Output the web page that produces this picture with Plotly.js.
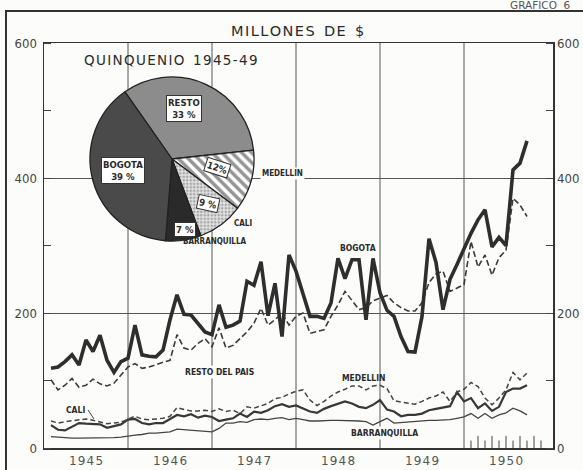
<!DOCTYPE html>
<html><head><meta charset="utf-8">
<script src="https://cdn.plot.ly/plotly-3.0.1.min.js"></script>
<style>html,body{margin:0;padding:0;background:#fcfcfa;}#chart{width:583px;height:470px;}</style>
</head><body><div id="chart"></div>
<script>
// Monthly values, millions of pesos, Jan 1945 .. Sep 1950
const yearLabels = ['1945','1946','1947','1948','1949','1950'];
const bogota = [118,120,128,138,123,160,143,167,130,112,128,133,
  182,138,136,135,145,190,227,198,197,185,172,168,
  212,179,182,188,247,241,276,196,244,165,286,262,
  228,195,195,192,215,281,251,279,279,190,281,230,
  204,195,165,143,142,195,310,275,205,250,272,296,
  318,338,353,298,312,300,412,422,455];
const resto = [101,86,93,103,90,93,102,95,92,96,108,120,
  125,118,120,124,127,130,168,148,145,155,162,150,
  178,148,152,162,172,185,207,182,190,200,182,195,
  200,170,172,175,195,212,232,218,205,208,218,222,
  226,215,208,203,203,215,245,258,262,232,237,242,
  306,268,286,256,282,293,370,360,343];
const medellin = [40,37,39,40,41,43,41,38,36,37,38,43,
  47,43,42,43,44,47,60,57,55,55,56,54,
  58,54,56,51,61,59,62,66,73,75,80,84,
  86,71,63,69,77,83,87,92,92,86,92,93,
  88,70,68,66,65,69,74,77,83,69,83,87,
  97,91,74,64,74,86,112,101,111];
const cali = [34,27,26,32,37,36,36,35,30,32,35,42,
  43,37,35,37,37,43,49,47,50,45,48,46,
  40,42,44,51,46,54,52,56,62,65,61,63,
  58,54,52,58,62,66,69,66,61,59,64,71,
  57,54,47,49,49,51,56,58,60,62,83,69,
  74,59,66,55,61,83,88,88,93];
const barranquilla = [17,16,15,14.5,14.5,14.5,14.5,15,15.5,15.5,16,18,
  19,20,22,22,23,24,28,27,27,26,25,24,
  29,37,37,39,38,42,43,42,44,45,42,44,
  42,40,40,41,41,41,41,41,40,39,34,39,
  44,37,38,39,40,41,41,41,41,42,44,46,
  51,44,51,44,49,52,59,55,49];

const pieLabels = ['RESTO','MEDELLIN','CALI','BARRANQUILLA','BOGOTA'];
const pieValues = [33,12,9,7,39];
const pieBoxTexts = ['<b>RESTO</b><br><b>33 %</b>','<b>12%</b>','<b>9 %</b>','<b>7 %</b>','<b>BOGOTA</b><br><b>39 %</b>'];
const yTicks = [0,200,400,600];
const yMinorStep = 100;

// month position: value for month i plotted at end of that month
const monthPos = bogota.map((_, i) => i + 1);

const INK = '#333';
const FONT = 'DejaVu Sans Condensed, DejaVu Sans, sans-serif';
const WIDE = 'DejaVu Sans, sans-serif';
const spaced = s => s.split('').join('\u200A');
// plot-area geometry helper (pixels -> paper) for labels / decoration
const L = 44, W = 509, B = 448, H = 405;
const P = (px, py) => ({x: (px - L) / W, y: (B - py) / H});

function line(y, name, width, dash, color) {
  return {type:'scatter', mode:'lines', x: monthPos, y: y, name: name,
    line:{color: color || INK, width: width, dash: dash || 'solid'},
    hoverinfo:'skip', showlegend:false};
}

const traces = [
  line(barranquilla, 'BARRANQUILLA', 1.3, 'solid', '#444'),
  line(cali, 'CALI', 2.2, 'solid', '#383838'),
  line(medellin, 'MEDELLIN', 1.5, '5px,3px', '#444'),
  line(resto, 'RESTO DEL PAIS', 1.6, '6px,3px', '#3a3a3a'),
  line(bogota, 'BOGOTA', 3.6, 'solid', '#2e2e2e'),
  {type:'scatter', mode:'none', x:[null], y:[null], yaxis:'y2', showlegend:false, hoverinfo:'skip'},
  {type:'pie', labels: pieLabels, values: pieValues, sort:false, direction:'clockwise',
   rotation:-35, textinfo:'none', hoverinfo:'skip', showlegend:false,
   domain:{x:[P(90,0).x, P(254,0).x], y:[P(0,242).y, P(0,76).y]},
   marker:{colors:['#8c8c8c','#ffffff','#e4e4e4','#2a2a2a','#4a4a4a'],
     line:{color:'#222', width:1.3},
     pattern:{shape:['', '\\', '.', '', ''], fillmode:'overlay',
       fgcolor:['#000','#2a2a2a','#666','#000','#000'],
       size:[8,7,3.5,8,8], solidity:[0.3,0.5,0.45,0.3,0.3]}}}
];

const shapes = [];
// outer frame of the sheet (extends past the right and bottom edges)
const fTL = P(6, 11), fBR = P(640, 520);
shapes.push({type:'rect', xref:'paper', yref:'paper', x0:fTL.x, y0:fBR.y, x1:fBR.x, y1:fTL.y,
  line:{color:'#333', width:2}, fillcolor:'rgba(0,0,0,0)', layer:'below'});
// year gridlines
yearLabels.slice(1).forEach((_, i) => {
  const m = (i + 1) * 12;
  shapes.push({type:'line', xref:'x', yref:'y', x0:m, x1:m, y0:0, y1:600,
    line:{color:'#555', width:1}, layer:'below'});
});
// monthly ticks in 1950
for (let m = 61; m <= 71; m++) {
  shapes.push({type:'line', xref:'x', yref:'y', x0:m, x1:m, y0:0, y1:(m % 2 === 0 ? 18 : 11),
    line:{color:'#444', width:1}});
}
// CALI leader
const c1 = P(88, 410), c2 = P(94, 419);
shapes.push({type:'line', xref:'paper', yref:'paper', x0:c1.x, y0:c1.y, x1:c2.x, y1:c2.y, line:{color:'#444', width:1}});

function ann(text, px, py, size, opts, family) {
  const p = P(px, py);
  return Object.assign({xref:'paper', yref:'paper', x:p.x, y:p.y, text:text, showarrow:false,
    font:{family:family || FONT, size:size, color:'#2a2a2a'}, xanchor:'center', yanchor:'middle'}, opts || {});
}
const boxOpts = {bgcolor:'#ffffff', bordercolor:'#333', borderwidth:1, borderpad:1};
const pieBoxPos = [[184,108],[217,167],[208,204],[185,230],[123,170]];
const annotations = [
  ann(spaced('MILLONES') + '  ' + spaced('DE') + '  $', 297, 31, 14.5, null, WIDE),
  ann(spaced('QUINQUENIO') + '  ' + spaced('1945-49'), 171, 60, 13.5, null, WIDE),
  ann('GRAFICO  6', 540, 5, 10.5, {font:{family:WIDE, size:10.5, color:'#555'}}),
];
pieBoxTexts.forEach((t, i) => {
  const o = Object.assign({}, boxOpts);
  if (i === 1) o.textangle = 18;
  if (i === 2) o.textangle = 12;
  annotations.push(ann(t, pieBoxPos[i][0], pieBoxPos[i][1], 9.5, o));
});
annotations.push(ann('<b>MEDELLIN</b>', 282, 173, 8, {bgcolor:'#fcfcfa'}));
annotations.push(ann('<b>CALI</b>', 243, 223, 8));
annotations.push(ann('<b>BARRANQUILLA</b>', 215, 241, 8));
annotations.push(ann('<b>BOGOTA</b>', 358, 248, 8.5));
annotations.push(ann('<b>RESTO DEL PAIS</b>', 219, 372, 8.5, {bgcolor:'#fcfcfa'}));
annotations.push(ann('<b>MEDELLIN</b>', 363, 378, 8.5));
annotations.push(ann('<b>BARRANQUILLA</b>', 384, 433, 8.5, {bgcolor:'#fcfcfa'}));
annotations.push(ann('<b>CALI</b>', 75, 410, 8.5));

const layout = {
  width:583, height:470,
  margin:{l:L, r:583 - L - W, t:B - H, b:470 - B, pad:0},
  paper_bgcolor:'#fcfcfa', plot_bgcolor:'#fcfcfa',
  showlegend:false,
  xaxis:{range:[0, W / 7], tickvals: yearLabels.map((_, i) => i * 12 + 6), ticktext: yearLabels.map(spaced),
    showgrid:false, zeroline:false, ticks:'', showline:true, mirror:true,
    linecolor:'#333', linewidth:1.5, ticklabelstandoff:1,
    tickfont:{family:WIDE, size:12, color:'#555'}, fixedrange:true},
  yaxis:{range:[0,600], tickvals:yTicks, showgrid:true, gridcolor:'#555', gridwidth:1,
    zeroline:false, ticks:'', showline:true, mirror:true, linecolor:'#333', linewidth:1.5,
    ticklabelstandoff:3, tickfont:{family:FONT, size:13, color:'#444'},
    minor:{dtick:yMinorStep, ticks:'inside', ticklen:7, tickcolor:'#444', showgrid:false}},
  yaxis2:{range:[0,600], tickvals:yTicks, overlaying:'y', side:'right', showgrid:false,
    zeroline:false, ticks:'', showline:false, ticklabelstandoff:3,
    tickfont:{family:FONT, size:13, color:'#444'},
    minor:{dtick:yMinorStep, ticks:'inside', ticklen:7, tickcolor:'#444', showgrid:false}},
  shapes: shapes,
  annotations: annotations
};
Plotly.newPlot('chart', traces, layout, {staticPlot:true, displayModeBar:false});
</script></body></html>
